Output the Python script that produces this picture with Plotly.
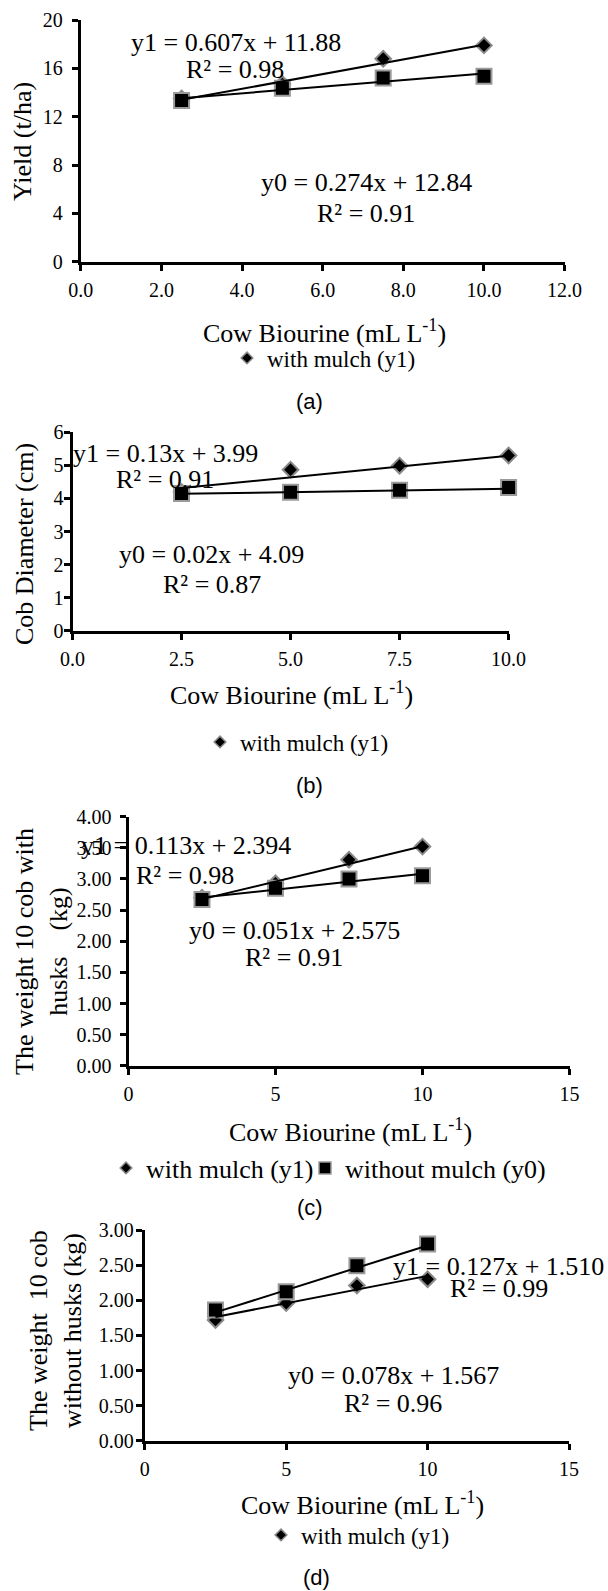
import plotly.graph_objects as go

# ---------------- data ----------------
dose = [2.5, 5.0, 7.5, 10.0]

yield_with = [13.5, 14.7, 16.8, 17.9]
yield_without = [13.35, 14.35, 15.2, 15.35]

diam_with = [4.2, 4.87, 4.99, 5.30]
diam_without = [4.15, 4.19, 4.25, 4.33]

husk_with = [2.70, 2.93, 3.31, 3.52]
husk_without = [2.67, 2.85, 3.00, 3.05]

nohusk_with = [1.72, 1.96, 2.21, 2.30]
nohusk_without = [1.86, 2.12, 2.49, 2.80]

# trendline coefficients (slope, intercept) for diamond series / square series
fit_a_diamond = (0.607, 11.88)
fit_a_square = (0.274, 12.84)
fit_b_diamond = (0.13, 3.99)
fit_b_square = (0.02, 4.09)
fit_c_diamond = (0.113, 2.394)
fit_c_square = (0.051, 2.575)
fit_d_diamond = (0.078, 1.567)
fit_d_square = (0.127, 1.510)

eq_a = ["y1 = 0.607x + 11.88", "R² = 0.98", "y0 = 0.274x + 12.84", "R² = 0.91"]
eq_b = ["y1 = 0.13x + 3.99", "R² = 0.91", "y0 = 0.02x + 4.09", "R² = 0.87"]
eq_c = ["y1 = 0.113x + 2.394", "R² = 0.98", "y0 = 0.051x + 2.575", "R² = 0.91"]
eq_d = ["y1 = 0.127x + 1.510", "R² = 0.99", "y0 = 0.078x + 1.567", "R² = 0.96"]

name_with = "with mulch (y1)"
name_without = "without mulch (y0)"
x_title = "Cow Biourine (mL L<sup>-1</sup>)"
y_titles = ["Yield (t/ha)", "Cob Diameter (cm)",
            "The weight 10 cob with<br>husks\u00a0\u00a0\u00a0\u00a0(kg)",
            "The weight  10 cob<br>without husks (kg)"]
panel_labels = ["(a)", "(b)", "(c)", "(d)"]

# ---------------- layout helpers ----------------
W, H = 608, 1591
SERIF = "Liberation Serif, Times New Roman, serif"
NARROW = "Liberation Sans Narrow, Arial Narrow, Liberation Sans, Arial, sans-serif"


def fx(p):
    return p / W


def fy(p):
    return 1 - p / H


panels = [
    dict(xd=(82.3, 564.6), yd=(20.0, 263.3), xr=[0, 12], yr=[0, 20], dx=2, dy=4,
         xf=".1f", yf="d", dia=yield_with, sq=yield_without,
         fd=fit_a_diamond, fs=fit_a_square, eq=eq_a, ystand=5,
         eqpos=[(236, 43), (235, 70), (366, 182), (366, 213)],
         xt=(324, 332), yt=(22, 142), leg=(227, 358), leg_sq=None, lab=(310, 401),
         legsize=23),
    dict(xd=(74.0, 508.6), yd=(432.3, 632.3), xr=[0, 10], yr=[0, 6], dx=2.5, dy=1,
         xf=".1f", yf="d", dia=diam_with, sq=diam_without,
         fd=fit_b_diamond, fs=fit_b_square, eq=eq_b, ystand=-4,
         eqpos=[(165, 453), (165, 480), (212, 555), (212, 585)],
         xt=(291, 693), yt=(24, 544), leg=(200, 742), leg_sq=None, lab=(310, 785),
         legsize=23),
    dict(xd=(130.0, 569.5), yd=(816.7, 1067.3), xr=[0, 15], yr=[0, 4], dx=5, dy=0.5,
         xf="d", yf=".2f", dia=husk_with, sq=husk_without,
         fd=fit_c_diamond, fs=fit_c_square, eq=eq_c, ystand=4,
         eqpos=[(186, 845), (185, 875), (294, 930), (294, 958)],
         xt=(350, 1130), yt=(41, 952), leg=(106, 1168), leg_sq=(305, 1168),
         lab=(310, 1207), legsize=26),
    dict(xd=(146.3, 569.0), yd=(1230.0, 1442.3), xr=[0, 15], yr=[0, 3], dx=5, dy=0.5,
         xf="d", yf=".2f", dia=nohusk_with, sq=nohusk_without,
         fd=fit_d_diamond, fs=fit_d_square, eq=eq_d, ystand=-2,
         eqpos=[(498, 1266), (499, 1288), (393, 1375), (393, 1403)],
         xt=(362, 1503), yt=(55, 1331), leg=(261, 1535), leg_sq=None, lab=(316, 1577),
         legsize=23),
]

fig = go.Figure()
annotations = []
layout_axes = {}


def legend_box(pos, size):
    return dict(x=fx(pos[0]), y=fy(pos[1]), xanchor="left", yanchor="middle",
                orientation="h", font=dict(family=SERIF, size=size, color="black"),
                bgcolor="rgba(0,0,0,0)", borderwidth=0, itemwidth=30, tracegroupgap=0)


for i, p in enumerate(panels):
    n = "" if i == 0 else str(i + 1)
    xa, ya = "x" + n, "y" + n
    leg = "legend" + n

    marker_sq = dict(symbol="square", size=15, color="black",
                     line=dict(color="#9a9a9a", width=2))
    marker_di = dict(symbol="diamond", size=12, color="black",
                     line=dict(color="#8a8a8a", width=2))

    # markers
    fig.add_trace(go.Scatter(x=dose, y=p["dia"], mode="markers", marker=marker_di,
                             name=name_with, showlegend=False, xaxis=xa, yaxis=ya,
                             cliponaxis=False))
    fig.add_trace(go.Scatter(x=dose, y=p["sq"], mode="markers", marker=marker_sq,
                             name=name_without, showlegend=False, xaxis=xa, yaxis=ya,
                             cliponaxis=False))
    # trendlines
    xs = [min(dose), max(dose)]
    for (m, b) in (p["fd"], p["fs"]):
        fig.add_trace(go.Scatter(x=xs, y=[m * v + b for v in xs], mode="lines",
                                 line=dict(color="black", width=2),
                                 showlegend=False, hoverinfo="skip",
                                 xaxis=xa, yaxis=ya))
    # legend entries
    fig.add_trace(go.Scatter(x=[None], y=[None], mode="markers",
                             marker=dict(symbol="diamond", size=9, color="black",
                                         line=dict(color="#8a8a8a", width=1.5)),
                             name=name_with, legend=leg, xaxis=xa, yaxis=ya))
    layout_axes[leg] = legend_box(p["leg"], p["legsize"])
    if p["leg_sq"] is not None:
        leg2 = "legend5"
        fig.add_trace(go.Scatter(x=[None], y=[None], mode="markers",
                                 marker=dict(symbol="square", size=12, color="black",
                                             line=dict(color="#9a9a9a", width=1.5)),
                                 name=name_without, legend=leg2, xaxis=xa, yaxis=ya))
        layout_axes[leg2] = legend_box(p["leg_sq"], p["legsize"])

    x0, x1 = p["xd"]
    y0, y1 = p["yd"]
    common = dict(showline=True, linewidth=3, linecolor="black", ticks="outside",
                  ticklen=6, tickwidth=2.5, tickcolor="black", showgrid=False,
                  zeroline=False, fixedrange=True, automargin=False,
                  tickfont=dict(family=SERIF, size=20, color="black"))
    layout_axes["xaxis" + n] = dict(domain=[fx(x0 - 1.5), fx(x1)], range=p["xr"],
                                    anchor=ya, dtick=p["dx"], tick0=0,
                                    tickformat=p["xf"], ticklabelstandoff=2, **common)
    layout_axes["yaxis" + n] = dict(domain=[fy(y1 - 1.5), fy(y0)], range=p["yr"],
                                    anchor=xa, dtick=p["dy"], tick0=0,
                                    tickformat=p["yf"], ticklabelstandoff=p["ystand"],
                                    **common)

    # equation texts
    for txt, (ex, ey) in zip(p["eq"], p["eqpos"]):
        annotations.append(dict(text=txt, x=fx(ex), y=fy(ey), xref="paper", yref="paper",
                                xanchor="center", yanchor="middle", showarrow=False,
                                font=dict(family=SERIF, size=26, color="black")))
    # axis titles
    annotations.append(dict(text=x_title, x=fx(p["xt"][0]), y=fy(p["xt"][1]),
                            xref="paper", yref="paper", xanchor="center",
                            yanchor="middle", showarrow=False,
                            font=dict(family=SERIF, size=26, color="black")))
    annotations.append(dict(text=y_titles[i], x=fx(p["yt"][0]), y=fy(p["yt"][1]),
                            xref="paper", yref="paper", xanchor="center",
                            yanchor="middle", showarrow=False, textangle=-90,
                            font=dict(family=SERIF, size=26, color="black")))
    # panel label
    annotations.append(dict(text=panel_labels[i], x=fx(p["lab"][0]), y=fy(p["lab"][1]),
                            xref="paper", yref="paper", xanchor="center",
                            yanchor="middle", showarrow=False,
                            font=dict(family=NARROW, size=22, color="black")))

fig.update_layout(template="none", width=W, height=H, autosize=False,
                  margin=dict(l=0, r=0, t=0, b=0, pad=0, autoexpand=False),
                  paper_bgcolor="white", plot_bgcolor="white",
                  annotations=annotations, **layout_axes)

fig.write_html("out.html", config={"displayModeBar": False},
               post_script="document.body.style.margin='0';"
                           "document.body.style.overflow='hidden';")
